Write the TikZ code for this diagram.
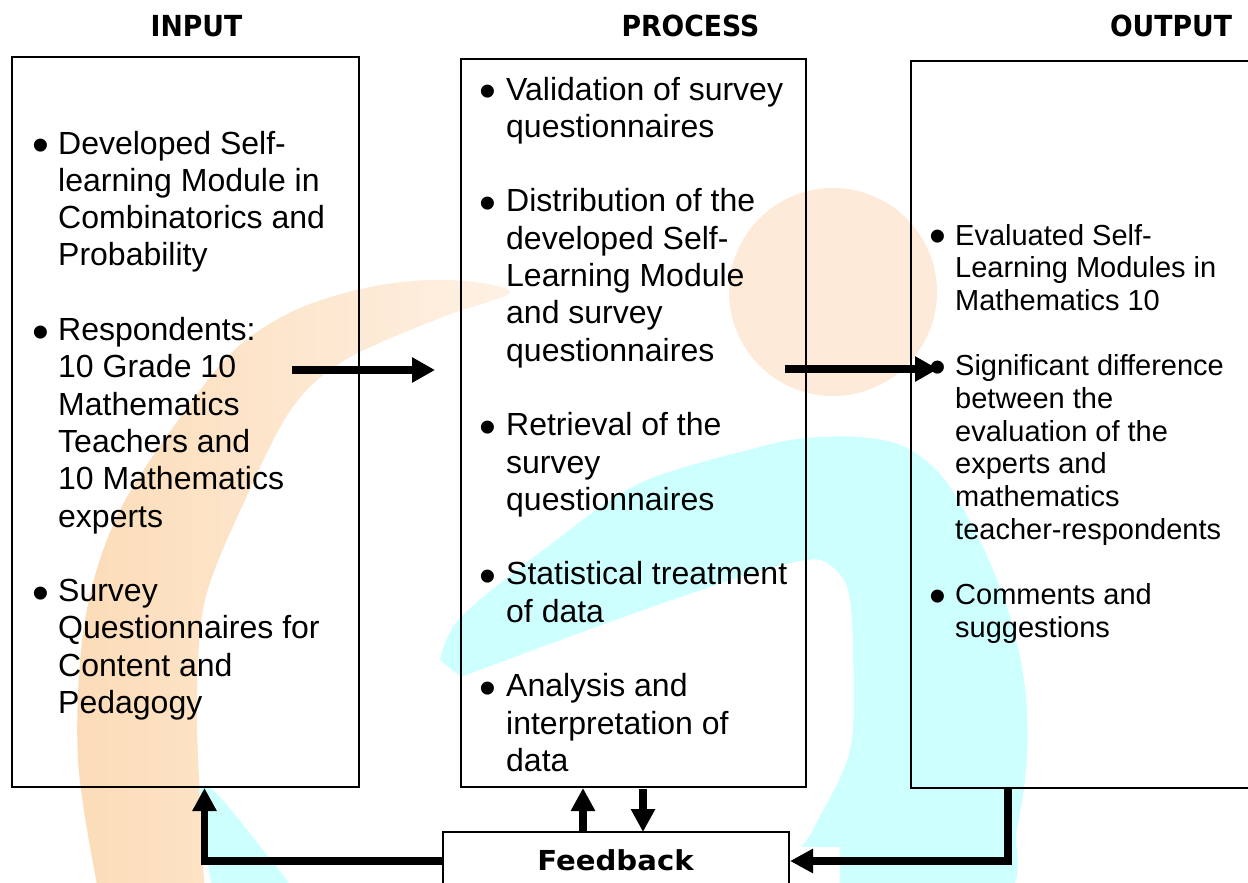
\documentclass[tikz,border=0pt]{standalone}
\usepackage{fontspec}
\setmainfont{Liberation Sans}
\newfontfamily\headfont[FakeStretch=0.92]{DejaVu Sans Bold}
\newfontfamily\fbfont[FakeStretch=1.06]{DejaVu Sans Bold}
\usetikzlibrary{arrows.meta}

\definecolor{peachdeep}{RGB}{252,220,184}
\definecolor{peachpale}{RGB}{254,241,228}
\definecolor{peachlight}{RGB}{253,234,216}
\definecolor{aqua}{RGB}{206,255,255}

% bullet mark hung to the left of a list item
\newcommand{\itemmark}[1]{\llap{\makebox[0pt]{\raisebox{-7.5pt}{\fontsize{48}{48}\selectfont\textbullet}}\hspace{#1}}}

\begin{document}
\begin{tikzpicture}[x=1pt,y=-1pt,
  frame/.style={draw=black, line width=1.8pt, inner sep=0pt},
  heading/.style={font=\headfont\fontsize{29}{29}\selectfont, anchor=base, inner sep=0pt},
  biglist/.style={anchor=base west, inner sep=0pt, font=\fontsize{32}{37.3}\selectfont},
  smalllist/.style={anchor=base west, inner sep=0pt, font=\fontsize{29}{32.7}\selectfont},
  flow/.style={line width=8pt, -{Triangle[length=23pt,width=24pt]}},
  loopback/.style={line width=7.5pt, -{Triangle[length=23pt,width=23pt]}},
]
\useasboundingbox (0,0) rectangle (1248,883);
\clip (0,0) rectangle (1248,883);
\fill[white] (0,0) rectangle (1248,883);

% watermark: orange crescent, orange disc, cyan arcs
\shade[left color=peachdeep, right color=peachpale] plot[smooth, tension=0.55] coordinates {(100,900) (78,760) (85,620) (120,510) (193,400) (240,345) (300,308) (375,286) (450,280) (510,292) (440,318) (345,360) (292,408) (245,500) (205,600) (197,700) (200,800) (205,900)} -- cycle;
\fill[peachlight] (833,292) circle (104pt);
\fill[aqua] plot[smooth, tension=0.55] coordinates {(440,660) (461,617) (550,545) (640,483) (760,447) (807,438) (860,437) (905,447) (945,480) (983,547) (1010,617) (1025,687) (1027,757) (1017,828) (995,900) (780,900) (813,830) (850,750) (853,650) (848,590) (830,565) (807,560) (740,577) (607,623) (461,677)} -- cycle;
\fill[aqua] plot[smooth, tension=0.5] coordinates {(199,790) (213,790) (255,840) (295,900) (220,900) (206,840)} -- cycle;
\fill[white] (790,847) rectangle (840,890);

% headings
\node[heading] (hin) at (196.5,37) {INPUT};
\node[heading] (hpro) at (690.5,37) {PROCESS};
\node[heading] (hout) at (1171,37) {OUTPUT};

% boxes
\node[frame, minimum width=347pt, minimum height=730pt] (inbox) at (185.5,422) {};
\node[frame, minimum width=345pt, minimum height=728pt] (probox) at (633.5,423) {};
\node[frame, minimum width=359pt, minimum height=727pt] (outbox) at (1090.5,424.5) {};
\node[frame, fill=white, minimum width=346pt, minimum height=73pt] (fbbox) at (616,868.5) {};
\node[anchor=base, inner sep=0pt, font=\fbfont\fontsize{27.5}{27.5}\selectfont] (fbtext) at (615.5,870) {Feedback};

% input list
\node[biglist] (in1) at (58,154) {\itemmark{17pt}\parbox[t]{295pt}{\raggedright Developed Self-\\learning Module in\\Combinatorics and\\Probability}};
\node[biglist] (in2) at (58,340.5) {\itemmark{17pt}\parbox[t]{295pt}{\raggedright Respondents:\\10 Grade 10\\Mathematics\\Teachers and\\10 Mathematics\\experts}};
\node[biglist] (in3) at (58,601.6) {\itemmark{17pt}\parbox[t]{295pt}{\raggedright Survey\\Questionnaires for\\Content and\\Pedagogy}};

% process list
\node[biglist] (pr1) at (506,100) {\itemmark{18pt}\parbox[t]{295pt}{\raggedright Validation of survey\\questionnaires}};
\node[biglist] (pr2) at (506,211.9) {\itemmark{18pt}\parbox[t]{295pt}{\raggedright Distribution of the\\developed Self-\\Learning Module\\and survey\\questionnaires}};
\node[biglist] (pr3) at (506,435.7) {\itemmark{18pt}\parbox[t]{295pt}{\raggedright Retrieval of the\\survey\\questionnaires}};
\node[biglist] (pr4) at (506,584.9) {\itemmark{18pt}\parbox[t]{295pt}{\raggedright Statistical treatment\\of data}};
\node[biglist] (pr5) at (506,696.8) {\itemmark{18pt}\parbox[t]{295pt}{\raggedright Analysis and\\interpretation of\\data}};

% output list
\node[smalllist] (ou1) at (955,245) {\itemmark{17pt}\parbox[t]{295pt}{\raggedright Evaluated Self-\\Learning Modules in\\Mathematics 10}};
\node[smalllist] (ou2) at (955,375.8) {\itemmark{17pt}\parbox[t]{295pt}{\raggedright Significant difference\\between the\\evaluation of the\\experts and\\mathematics\\teacher-respondents}};
\node[smalllist] (ou3) at (955,604.7) {\itemmark{17pt}\parbox[t]{295pt}{\raggedright Comments and\\suggestions}};

% connector end points
\coordinate (a1s) at (292,370);
\coordinate (a1e) at (435,370);
\coordinate (a2s) at (785,369);
\coordinate (a2e) at (938,369);
\coordinate (fbl) at (443,861);
\coordinate (inl) at (204.5,788);
\coordinate (fbu) at (583,832);
\coordinate (pru) at (583,788);
\coordinate (prd) at (643,789);
\coordinate (fbd) at (643,832);
\coordinate (oub) at (1008,789);
\coordinate (fbr) at (790,861);

% connectors
\draw[flow] (a1s) -- (a1e);
\draw[flow] (a2s) -- (a2e);
\draw[loopback] (fbl) -| (inl);
\draw[loopback] (fbu) -- (pru);
\draw[loopback] (prd) -- (fbd);
\draw[loopback] (oub) |- (fbr);
\end{tikzpicture}
\end{document}
